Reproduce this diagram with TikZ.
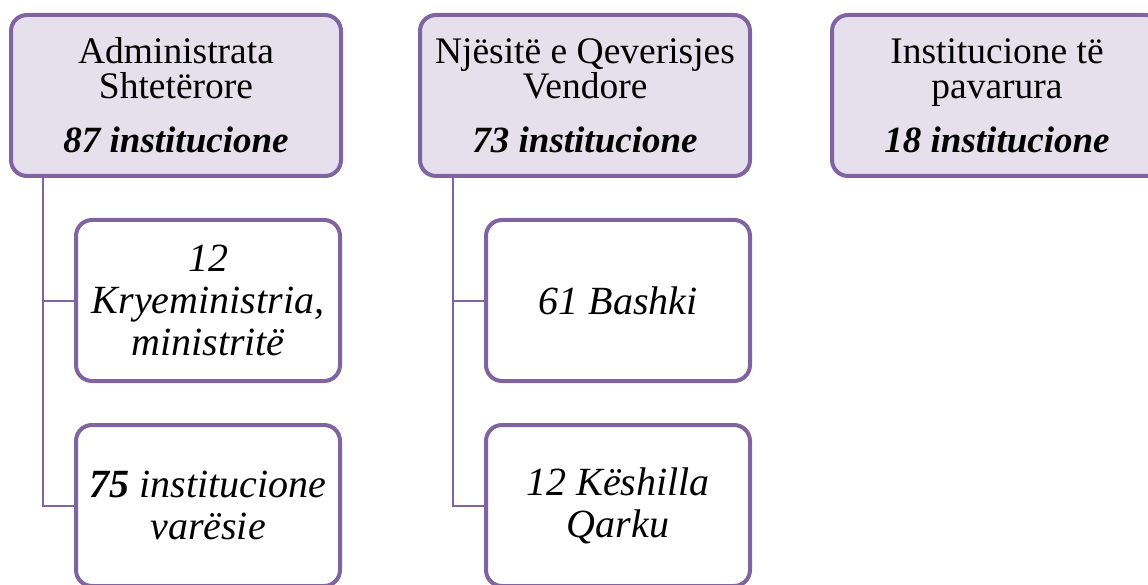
\documentclass[tikz,border=0pt]{standalone}
\usepackage{fontspec}
\setmainfont{Liberation Serif}
\definecolor{purp}{HTML}{8064A2}
\definecolor{lav}{HTML}{E5E0EC}
\begin{document}
\begin{tikzpicture}[x=1pt,y=-1pt,
  topbox/.style={draw=purp, fill=lav, line width=4pt, rounded corners=16pt,
    minimum width=330pt, minimum height=161pt, align=center, inner sep=0pt,
    font=\fontsize{37.5}{35}\selectfont},
  childbox/.style={draw=purp, fill=white, line width=4pt, rounded corners=16pt,
    minimum width=264pt, minimum height=161pt, align=center, inner sep=0pt,
    font=\fontsize{40}{42}\selectfont\itshape},
  link/.style={draw=purp, line width=2pt}]
\newcommand{\cnt}[1]{{\fontsize{37}{35}\selectfont\bfseries\itshape #1}}
\useasboundingbox (0,0) rectangle (1148,585);
\clip (0,0) rectangle (1148,585);
\node[topbox] (t1) at (176,95.5) {Administrata\\Shtetërore\\[19pt]\cnt{87 institucione}};
\node[topbox] (t2) at (585,95.5) {Njësitë e Qeverisjes\\Vendore\\[19pt]\cnt{73 institucione}};
\node[topbox] (t3) at (997,95.5) {Institucione të\\pavarura\\[19pt]\cnt{18 institucione}};
\node[childbox] (c11) at (208,300.5) {12\\Kryeministria,\\ministritë};
\node[childbox] (c12) at (208,505.5) {\textbf{75} institucione\\varësie};
\node[childbox] (c21) at (618,300.5) {61 Bashki};
\node[childbox] (c22) at (618,505.5) {12 Këshilla\\Qarku};
\coordinate (r1) at (43,178);
\coordinate (r2) at (453,178);
\draw[link] (r1) |- (c11.west);
\draw[link] (r1) |- (c12.west);
\draw[link] (r2) |- (c21.west);
\draw[link] (r2) |- (c22.west);
\end{tikzpicture}
\end{document}
